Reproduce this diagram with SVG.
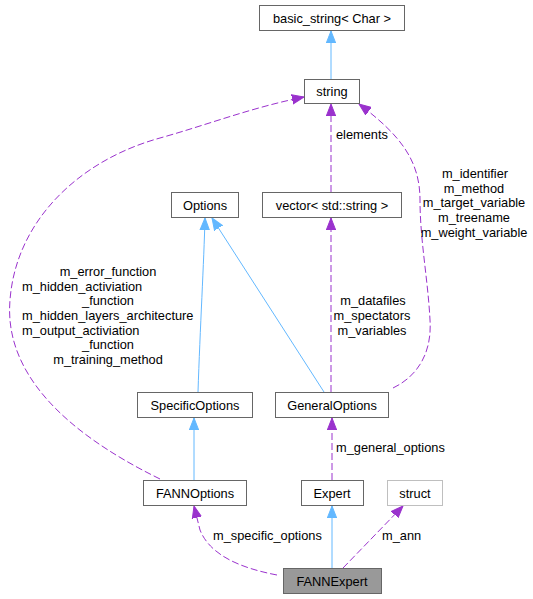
<svg xmlns="http://www.w3.org/2000/svg" width="533" height="599" viewBox="0 0 533 599">
<style>
text{font-family:"Liberation Sans",Arial,sans-serif;font-size:12.8px;fill:#000}
.n rect{fill:#fff;stroke:#666;stroke-width:1}
.n text{text-anchor:middle}
.b{fill:none;stroke:#63b8ff;stroke-width:1;marker-end:url(#ab)}
.p{fill:none;stroke:#9a32cd;stroke-width:1;stroke-dasharray:7,3;marker-end:url(#ap)}
.m{text-anchor:middle}
</style>
<defs>
<marker id="ab" markerUnits="userSpaceOnUse" markerWidth="13" markerHeight="11" refX="12" refY="5.5" orient="auto"><path d="M0,0.8 L12,5.5 L0,10.2 Z" fill="#63b8ff" stroke="#63b8ff"/></marker>
<marker id="ap" markerUnits="userSpaceOnUse" markerWidth="13" markerHeight="11" refX="12" refY="5.5" orient="auto"><path d="M0,0.8 L12,5.5 L0,10.2 Z" fill="#9a32cd" stroke="#9a32cd"/></marker>
</defs>
<g id="edges">
<path class="b" d="M331,79 L331,31"/>
<path class="p" d="M331,192 L331,104"/>
<path class="p" d="M331,392 L331,218"/>
<path class="p" d="M393,388 C420,375 432,350 430,320 C428,280 420,240 420,200 C420,160 400,135 359,104"/>
<path class="p" d="M160,479 C60,430 4,370 10,300 C16,220 80,160 160,138 C210,124 250,108 304,97"/>
<path class="b" d="M198,392 C200,330 204,260 205,218"/>
<path class="b" d="M324,392 L212,218"/>
<path class="b" d="M194,480 L194,418"/>
<path class="p" d="M332,480 L332,418"/>
<path class="b" d="M332,568 L332,506"/>
<path class="p" d="M277,575 C240,568 210,555 200,530 L194,506"/>
<path class="p" d="M343,568 L403,506"/>
<text x="336" y="139">elements</text>
<text class="m" x="373" y="305">m_datafiles</text>
<text class="m" x="372" y="320">m_spectators</text>
<text class="m" x="372" y="335">m_variables</text>
<text class="m" x="475" y="178">m_identifier</text>
<text class="m" x="474" y="193">m_method</text>
<text class="m" x="474" y="207">m_target_variable</text>
<text class="m" x="474" y="222">m_treename</text>
<text class="m" x="474" y="237">m_weight_variable</text>
<text class="m" x="108" y="276">m_error_function</text>
<text x="22" y="291">m_hidden_activiation</text>
<text class="m" x="108" y="305">_function</text>
<text x="22" y="320">m_hidden_layers_architecture</text>
<text x="22" y="335">m_output_activiation</text>
<text class="m" x="108" y="349">_function</text>
<text class="m" x="108" y="364">m_training_method</text>
<text x="336" y="452">m_general_options</text>
<text x="213" y="540">m_specific_options</text>
<text x="382" y="540">m_ann</text>
</g>
<g id="basic_string" class="n"><rect x="259.5" y="5.5" width="145" height="25"/><text x="332" y="22.5">basic_string&lt; Char &gt;</text></g>
<g id="string" class="n"><rect x="304.5" y="79.5" width="55" height="24"/><text x="332" y="96">string</text></g>
<g id="Options" class="n"><rect x="171.5" y="192.5" width="67" height="25"/><text x="205" y="209.5">Options</text></g>
<g id="vector" class="n"><rect x="262.5" y="192.5" width="139" height="25"/><text x="332" y="209.5">vector&lt; std::string &gt;</text></g>
<g id="SpecificOptions" class="n"><rect x="137.5" y="392.5" width="115" height="25"/><text x="195" y="409.5">SpecificOptions</text></g>
<g id="GeneralOptions" class="n"><rect x="275.5" y="392.5" width="113" height="25"/><text x="332" y="409.5">GeneralOptions</text></g>
<g id="FANNOptions" class="n"><rect x="143.5" y="480.5" width="103" height="25"/><text x="195" y="497.5">FANNOptions</text></g>
<g id="Expert" class="n"><rect x="301.5" y="480.5" width="62" height="25"/><text x="332" y="497.5">Expert</text></g>
<g id="struct" class="n"><rect x="387.5" y="480.5" width="55" height="25" style="stroke:#bfbfbf"/><text x="415" y="497.5">struct</text></g>
<g id="FANNExpert" class="n"><rect x="283.5" y="568.5" width="98" height="25" style="fill:#999"/><text x="332" y="585.5">FANNExpert</text></g>
</svg>
